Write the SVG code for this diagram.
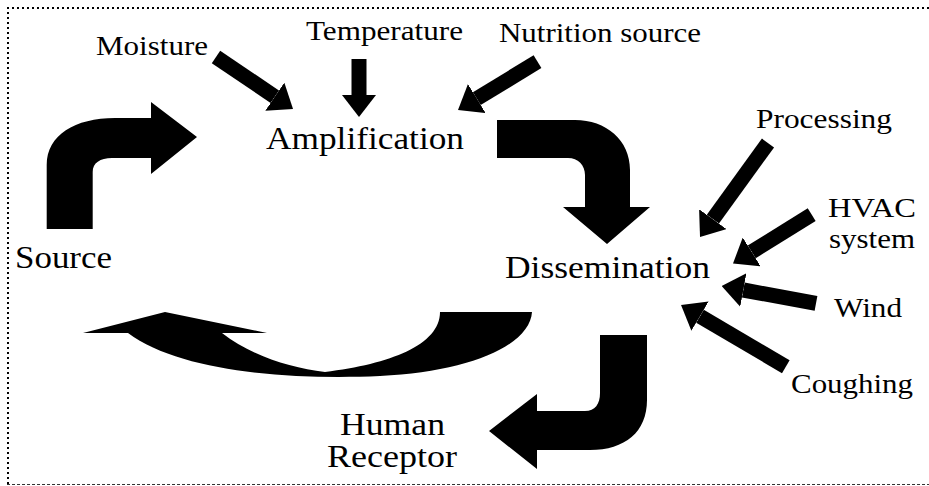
<svg xmlns="http://www.w3.org/2000/svg" width="929" height="486" viewBox="0 0 929 486">
<style>
.lbl{font-family:"Liberation Serif","Times New Roman",serif;fill:#000;}
.sm{font-size:28px;}
.bg{font-size:31px;}
.thin{stroke:#000;stroke-width:15;fill:none;}
.big{fill:#000;stroke:none;}
</style>
<defs>
<marker id="head" markerUnits="userSpaceOnUse" markerWidth="22" markerHeight="34" viewBox="0 0 22 34" refX="0" refY="17" orient="auto">
<path d="M0,0 L22,17 L0,34 Z" fill="#000"/>
</marker>
</defs>
<rect width="929" height="486" fill="#fff"/>
<g id="frame" fill="none">
<line x1="7" y1="8" x2="929" y2="8" stroke="#000" stroke-width="2" stroke-dasharray="2 3"/>
<line x1="8" y1="7" x2="8" y2="484" stroke="#000" stroke-width="2" stroke-dasharray="2 3"/>
<line x1="7" y1="484.5" x2="929" y2="484.5" stroke="#333" stroke-width="1" stroke-dasharray="3 2"/>
</g>
<g id="connectors">
<path class="big" d="M46.7,229 L46.7,165 C46.7,135 75,118 115,118 L151,118 L151,102 L197,137 L151,174 L151,158 L112,158 C100,158 92.7,163 92.7,172 L92.7,229 Z"/>
<path class="big" d="M497,120 L575,120 C606,120 630,140 630,170 L630,207 L650,207 L607,244 L563,207 L585,207 L585,175 C585,165 578,158 568,158 L497,158 Z"/>
<path class="big" d="M440,312 L532,312 C530,345 470,372 380,376 C290,380 180,372 128,333 L83,333 L165,312 L267,333 L222,333 C250,355 290,368 325,372 C390,364 440,345 440,312 Z"/>
<path class="big" d="M600,335 L647,335 L647,400 C647,432 625,450 590,450 L537,450 L537,469 L489,431 L537,394 L537,411 L585,411 C595,411 600,404 600,393 Z"/>
<line class="thin" x1="216" y1="57" x2="274.8" y2="96.7" marker-end="url(#head)"/>
<line class="thin" x1="359" y1="59" x2="359" y2="95" marker-end="url(#head)"/>
<line class="thin" x1="537.5" y1="61.7" x2="476.8" y2="98.6" marker-end="url(#head)"/>
<line class="thin" x1="768" y1="143" x2="712.9" y2="219.2" marker-end="url(#head)"/>
<line class="thin" x1="811.7" y1="214.7" x2="751.7" y2="251.9" marker-end="url(#head)"/>
<line class="thin" x1="816" y1="303.3" x2="743.3" y2="290" marker-end="url(#head)"/>
<line class="thin" x1="785.8" y1="366.7" x2="700" y2="316.2" marker-end="url(#head)"/>
</g>
<g id="moisture"><text class="lbl sm" x="96" y="55" textLength="112" lengthAdjust="spacingAndGlyphs">Moisture</text></g>
<g id="temperature"><text class="lbl sm" x="306" y="40" textLength="157" lengthAdjust="spacingAndGlyphs">Temperature</text></g>
<g id="nutrition"><text class="lbl sm" x="499" y="42" textLength="202" lengthAdjust="spacingAndGlyphs">Nutrition source</text></g>
<g id="amplification"><text class="lbl bg" x="266" y="149" textLength="198" lengthAdjust="spacingAndGlyphs">Amplification</text></g>
<g id="processing"><text class="lbl sm" x="756" y="128" textLength="136" lengthAdjust="spacingAndGlyphs">Processing</text></g>
<g id="hvac"><text class="lbl sm" x="828" y="217" textLength="88" lengthAdjust="spacingAndGlyphs">HVAC</text><text class="lbl sm" x="829" y="248" textLength="86" lengthAdjust="spacingAndGlyphs">system</text></g>
<g id="wind"><text class="lbl sm" x="834" y="317" textLength="68" lengthAdjust="spacingAndGlyphs">Wind</text></g>
<g id="coughing"><text class="lbl sm" x="791" y="393" textLength="122" lengthAdjust="spacingAndGlyphs">Coughing</text></g>
<g id="dissemination"><text class="lbl bg" x="505" y="278" textLength="205" lengthAdjust="spacingAndGlyphs">Dissemination</text></g>
<g id="source"><text class="lbl bg" x="15" y="268" textLength="97" lengthAdjust="spacingAndGlyphs">Source</text></g>
<g id="human-receptor"><text class="lbl bg" x="340" y="435" textLength="105" lengthAdjust="spacingAndGlyphs">Human</text><text class="lbl bg" x="327" y="467" textLength="130" lengthAdjust="spacingAndGlyphs">Receptor</text></g>
</svg>
